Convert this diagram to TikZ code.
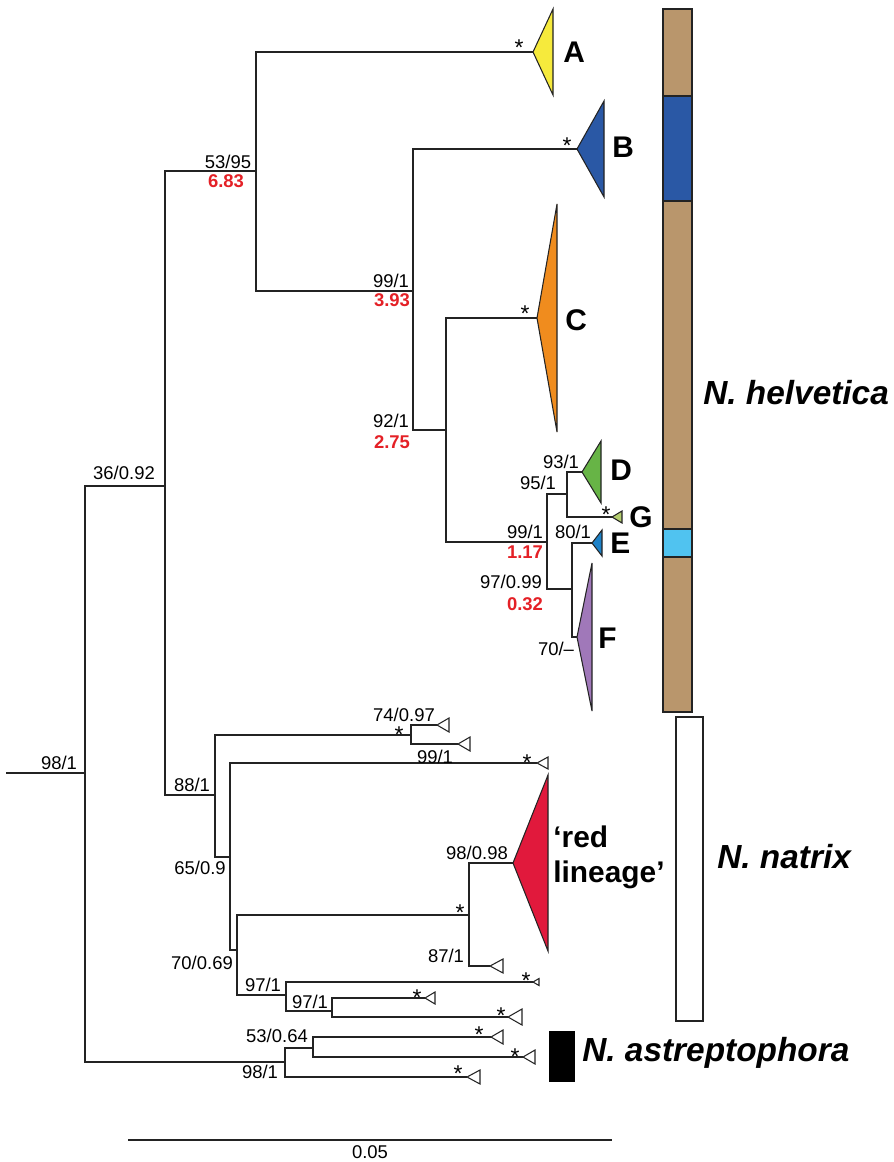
\documentclass[tikz,border=0pt]{standalone}
\usepackage{fontspec}
\setmainfont{Liberation Sans}
\usetikzlibrary{calc}
\definecolor{ink}{RGB}{35,35,35}
\definecolor{agered}{RGB}{228,32,38}
\definecolor{sand}{RGB}{185,150,108}
\definecolor{lemon}{RGB}{246,234,60}
\definecolor{royal}{RGB}{42,88,165}
\definecolor{tangerine}{RGB}{240,140,30}
\definecolor{grass}{RGB}{103,180,70}
\definecolor{lime}{RGB}{180,205,110}
\definecolor{azure}{RGB}{30,130,200}
\definecolor{lilac}{RGB}{160,120,185}
\definecolor{crimson}{RGB}{225,25,60}
\definecolor{sky}{RGB}{80,195,240}
\tikzset{
  branch/.style={draw=ink,line width=0.8pt},
  support/.style={font=\fontsize{10.5}{12}\selectfont,inner sep=0pt},
  age/.style={font=\fontsize{10.5}{12}\selectfont\bfseries,text=agered,inner sep=0pt},
  clade/.style={draw=ink,line width=0.6pt,fill=#1},
  clade/.default=white,
  letter/.style={font=\fontsize{17}{20}\selectfont\bfseries,anchor=west,inner sep=0pt,align=left},
  species/.style={font=\fontsize{19}{22}\selectfont\bfseries\itshape,anchor=west,inner sep=0pt},
  asterisk/.style={font=\fontsize{13}{14}\selectfont,inner sep=0pt},
  segment/.style={draw=ink,line width=0.6pt,fill=#1},
}

\begin{document}
\begin{tikzpicture}[x=0.02cm,y=-0.02cm]
  \useasboundingbox (0,0) rectangle (893,1162);
  % internal nodes
  \coordinate (stub) at (6,773);
  \coordinate (root) at (85,773);
  \coordinate (n36) at (165,486);
  \coordinate (n53) at (256,171);
  \coordinate (n99a) at (413,291);
  \coordinate (n92) at (446,430);
  \coordinate (n99b) at (547,542);
  \coordinate (n95) at (567,494);
  \coordinate (n97b) at (572,589);
  \coordinate (n88) at (215,795);
  \coordinate (n74) at (411,735);
  \coordinate (n65) at (230,857);
  \coordinate (n70) at (237,950);
  \coordinate (nred) at (469,915);
  \coordinate (n97c) at (286,995);
  \coordinate (n97d) at (332,1011);
  \coordinate (n98b) at (285,1062);
  \coordinate (n53b) at (313,1048);
  % tips
  \coordinate (lA) at (533,52);
  \coordinate (lB) at (577,149);
  \coordinate (lC) at (537,318);
  \coordinate (lD) at (582,472);
  \coordinate (lG) at (612,517);
  \coordinate (lE) at (592,543);
  \coordinate (lF) at (577,637);
  \coordinate (lred) at (513,863);
  \coordinate (l1) at (437,725);
  \coordinate (l2) at (458,744);
  \coordinate (l3) at (537,763);
  \coordinate (l4) at (490,966);
  \coordinate (l5) at (533,982);
  \coordinate (l6) at (425,998);
  \coordinate (l7) at (508,1017);
  \coordinate (l8) at (491,1037);
  \coordinate (l9) at (523,1057);
  \coordinate (l10) at (467,1077);

  \draw[branch] (stub) -- (root);
  \foreach \p/\c in {root/n36,root/n98b,n36/n53,n36/n88,n53/lA,n53/n99a,n99a/lB,n99a/n92,
    n92/lC,n92/n99b,n99b/n95,n99b/n97b,n95/lD,n95/lG,n97b/lE,n97b/lF,
    n88/n74,n88/n65,n74/l1,n74/l2,n65/l3,n65/n70,n70/nred,n70/n97c,nred/lred,nred/l4,
    n97c/l5,n97c/n97d,n97d/l6,n97d/l7,n98b/n53b,n98b/l10,n53b/l8,n53b/l9}
    \draw[branch] (\p) |- (\c);

  % collapsed clades
  \foreach \n/\d/\h/\c in {lA/20/43/lemon,lB/27/48/royal,lC/20/114/tangerine,lD/19/31/grass,
    lG/10/6/lime,lE/10/13/azure,lF/15/74/lilac,lred/35/88/crimson}
    \draw[clade=\c] (\n) -- ++(\d,-\h) -- ++(0,2*\h) -- cycle;
  \foreach \n/\d/\h in {l1/12/7,l2/12/7,l3/11/6,l4/13/7,l5/6/3.5,l6/10/6,l7/14/8,l8/12/7,l9/12/7,l10/13/7}
    \draw[clade] (\n) -- ++(\d,-\h) -- ++(0,2*\h) -- cycle;

  % asterisks
  \foreach \x/\y [count=\i] in {519/43,567/141,525/309,606/510,399/730,527/758,460/908,
    526/976,417/993,501/1011,479/1030,515/1052,458/1069}
    \node[asterisk] (ast\i) at (\x,\y+5) {*};

  % support values
  \node[support] (s98a) at (59,763) {98/1};
  \node[support] (s36) at (124,473) {36/0.92};
  \node[support] (s53) at (228,162) {53/95};
  \node[age] (t53) at (226,181) {6.83};
  \node[support] (s99a) at (391,281) {99/1};
  \node[age] (t99a) at (392,300) {3.93};
  \node[support] (s92) at (391,421) {92/1};
  \node[age] (t92) at (392,442) {2.75};
  \node[support] (s99b) at (525,532) {99/1};
  \node[age] (t99b) at (525,552) {1.17};
  \node[support] (s95) at (538,483) {95/1};
  \node[support] (s93) at (561,462) {93/1};
  \node[support] (s97b) at (511,582) {97/0.99};
  \node[age] (t97b) at (525,604) {0.32};
  \node[support] (s80) at (573,532) {80/1};
  \node[support] (s70b) at (556,649) {70/–};
  \node[support] (s88) at (192,785) {88/1};
  \node[support] (s74) at (404,715) {74/0.97};
  \node[support] (s99c) at (435,757) {99/1};
  \node[support] (s65) at (200,868) {65/0.9};
  \node[support] (s98c) at (477,853) {98/0.98};
  \node[support] (s70) at (202,963) {70/0.69};
  \node[support] (s87) at (446,956) {87/1};
  \node[support] (s97c) at (263,985) {97/1};
  \node[support] (s97d) at (310,1002) {97/1};
  \node[support] (s53b) at (277,1036) {53/0.64};
  \node[support] (s98b) at (260,1072) {98/1};

  % clade letters
  \node[letter] (cA) at (563,52) {A};
  \node[letter] (cB) at (612,147) {B};
  \node[letter] (cC) at (565,320) {C};
  \node[letter] (cD) at (610,470) {D};
  \node[letter] (cG) at (629,517) {G};
  \node[letter] (cE) at (610,543) {E};
  \node[letter] (cF) at (598,638) {F};
  \node[letter] (cred) at (553,857) {‘red\\lineage’};

  % species bars
  \draw[segment=sand] (663,9) rectangle (692,96);
  \draw[segment=royal] (663,96) rectangle (692,201);
  \draw[segment=sand] (663,201) rectangle (692,529);
  \draw[segment=sky] (663,529) rectangle (692,557);
  \draw[segment=sand] (663,557) rectangle (692,712);
  \draw[segment=white] (676,717) rectangle (703,1021);
  \fill[black] (549,1031) rectangle (575,1082);
  \node[species] (helv) at (703,393) {N. helvetica};
  \node[species] (natr) at (717,857) {N. natrix};
  \node[species] (astr) at (582,1053) {N. astreptophora};

  % scale
  \coordinate (sbl) at (128,1140);
  \coordinate (sbr) at (612,1140);
  \draw[branch] (sbl) -- (sbr);
  \node[support] (sb) at (370,1152) {0.05};
\end{tikzpicture}
\end{document}
